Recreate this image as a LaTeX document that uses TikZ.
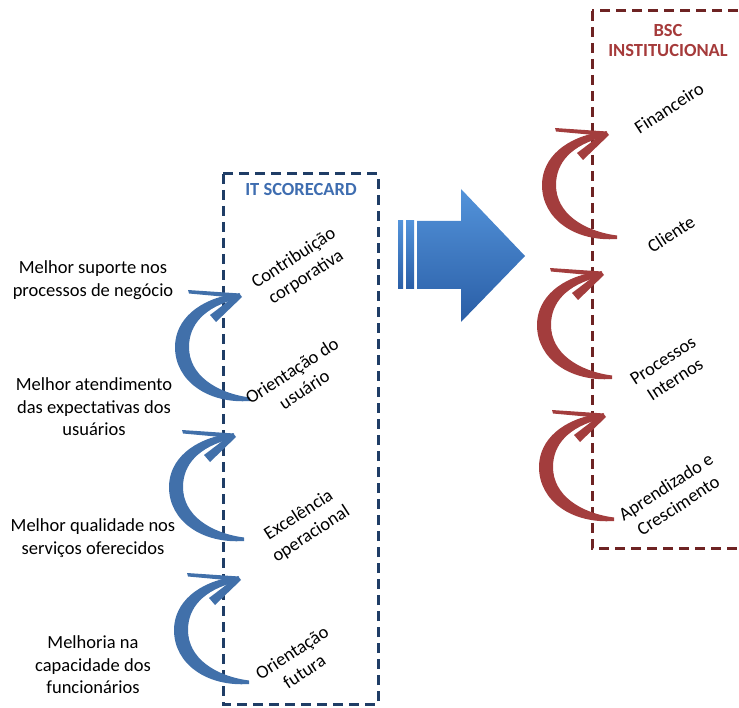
\documentclass[tikz,border=0pt]{standalone}
\usepackage{fontspec}
\setmainfont{Carlito}
\usetikzlibrary{calc}
\definecolor{bluedash}{HTML}{1F3D66}
\definecolor{reddash}{HTML}{6E2323}
\definecolor{bluearr}{HTML}{4170AA}
\definecolor{redarr}{HTML}{A33D3D}
\definecolor{bluetitle}{HTML}{3E6DB0}
\definecolor{redtitle}{HTML}{A53A3A}
\definecolor{bigtop}{HTML}{5393DA}
\definecolor{bigbot}{HTML}{2A5EA6}
\tikzset{
  lbl/.style={align=center, font=\fontsize{18.5}{22.5}\selectfont, text=black, inner sep=0pt},
  rlbl/.style={lbl, rotate=33},
  ttl/.style={align=center, font=\fontsize{18.5}{20}\selectfont\bfseries, inner sep=0pt},
  dbox/.style={line width=3pt, dash pattern=on 10pt off 6pt},
  curvarrow/.pic={
    \fill[pic actions]
      (12,106) .. controls (-30,109) and (-63,86) .. (-63,52)
      .. controls (-63,24) and (-38,4) .. (-4,-1)
      -- (-1,4)
      .. controls (-34,12) and (-49,30) .. (-49,52)
      .. controls (-49,80) and (-22,98) .. (12,102.5) -- cycle;
    \fill[pic actions] (2,-1.5) -- (-50,-5) -- (-49,-1.5) -- (0,3) -- cycle;
    \fill[pic actions] (1,-2) -- (-28,20) -- (-22,27) -- (4,2) -- cycle;
  }
}
\begin{document}
\begin{tikzpicture}[x=1pt,y=-1pt]
\useasboundingbox (0,0) rectangle (739,708);
\clip (0,0) rectangle (739,708);

% dashed boxes
\draw[dbox, bluedash] (223,174) rectangle (378,704);
\draw[dbox, reddash] (592,11) rectangle (760,548);

% titles
\node[ttl, text=bluetitle] (itsc) at (301,189) {IT SCORECARD};
\node[ttl, text=redtitle] (bsc) at (668,41) {BSC\\INSTITUCIONAL};

% big arrow
\shade[top color=bigtop, bottom color=bigbot]
  (417,221) -- (461,221) -- (461,189) -- (525,256) -- (461,322) -- (461,289) -- (417,289) -- cycle;
\shade[top color=bigtop, bottom color=bigbot] (398,221) rectangle (403,289);
\shade[top color=bigtop, bottom color=bigbot] (406,221) rectangle (414,289);

% blue curved arrows
\pic[fill=bluearr] at (238,295) {curvarrow};
\pic[fill=bluearr] at (232,435) {curvarrow};
\pic[fill=bluearr] at (237,578) {curvarrow};

% red curved arrows
\pic[fill=redarr] at (605,133) {curvarrow};
\pic[fill=redarr] at (600,273) {curvarrow};
\pic[fill=redarr] at (602,415) {curvarrow};

% left labels
\node[lbl] (l1) at (93,280) {Melhor suporte nos\\processos de negócio};
\node[lbl] (l2) at (94,407) {Melhor atendimento\\das expectativas dos\\usuários};
\node[lbl] (l3) at (93,538) {Melhor qualidade nos\\serviços oferecidos};
\node[lbl] (l4) at (93,665) {Melhoria na\\capacidade dos\\funcionários};

% IT scorecard perspectives
\node[rlbl] (p1) at (300,268) {Contribuição\\corporativa};
\node[rlbl] (p2) at (298,380) {Orientação do\\usuário};
\node[rlbl] (p3) at (305,525) {Excelência\\operacional};
\node[rlbl] (p4) at (298,662) {Orientação\\futura};

% BSC perspectives
\node[rlbl] (b1) at (669,108) {Financeiro};
\node[rlbl] (b2) at (671,234) {Cliente};
\node[rlbl] (b3) at (669,370) {Processos\\Internos};
\node[rlbl] (b4) at (672,496) {Aprendizado e\\Crescimento};
\end{tikzpicture}
\end{document}
